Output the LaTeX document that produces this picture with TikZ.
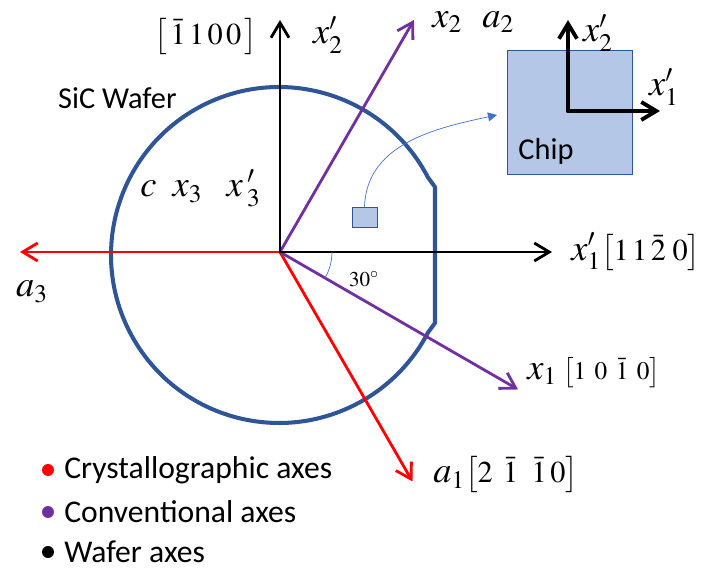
\documentclass[tikz,border=0pt]{standalone}
\usepackage{mathptmx}
\usepackage[no-math]{fontspec}
\setmainfont{Carlito}
\usetikzlibrary{arrows.meta, positioning, calc}
\definecolor{crystred}{HTML}{FF0000}
\definecolor{convpurple}{HTML}{7030A0}
\definecolor{waferblue}{HTML}{2F5597}
\definecolor{chipfill}{HTML}{B4C7E7}
\definecolor{linkblue}{HTML}{4472C4}
\newcommand{\miller}[2][\LARGE]{{#1$\bigl[#2\bigr]$}}

\begin{document}
\begin{tikzpicture}[x=0.02cm, y=0.02cm,
  >={Straight Barb[length=3mm, width=3.6mm]},
  axis/.style={line width=1.6pt, ->, line cap=round},
  lbl/.style={font=\huge, inner sep=0pt},
  legdot/.style={circle, minimum size=0.24cm, inner sep=0pt},
  legtxt/.style={font=\fontsize{18}{22}\selectfont, anchor=west, inner sep=0pt}]

\useasboundingbox (0,0) rectangle (706,571);

% Wafer with flat
\coordinate (wc) at (279,316);
\draw[waferblue, line width=2.3pt, line join=round]
  (435,248) -- (435,384) -- ($(wc)+(27.5:3.36cm)$)
  arc[start angle=27.5, end angle=332.5, radius=3.36cm] -- cycle;
\node[font=\LARGE, anchor=west] (wlabel) at (52,473) {SiC Wafer};

% Axes
\coordinate (O) at (280,319);
\coordinate (x2pEnd) at (280,551);
\coordinate (x1pEnd) at (552,319);
\coordinate (a3End) at (20,319);
\coordinate (a1End) at ($(O)+(-60:5.3cm)$);
\coordinate (x2End) at ($(O)+(60:5.36cm)$);
\coordinate (x1End) at ($(O)+(-30:5.5cm)$);

\draw[axis, crystred] (O) -- (a3End);
\draw[axis, crystred] (O) -- (a1End);
\draw[axis, convpurple] (O) -- (x2End);
\draw[axis, convpurple] (O) -- (x1End);
\draw[axis, black] (O) -- (x2pEnd);
\draw[axis, black] (O) -- (x1pEnd);

% 30 degree mark
\draw[linkblue, thin] ($(O)+(0:1.04cm)$) arc[start angle=0, end angle=-30, radius=1.04cm];
\node[font=\large] (ang) at (364,292) {$30^{\circ}$};

% Axis labels
\node[lbl] (lx2p) at (206,534) {\miller{\,\bar{1}\,1\,0\,0\,}};
\node[lbl] (lx2pb) at (328,536) {$x'_2$};
\node[lbl, anchor=west] (lx2) at (432,549) {$x_2\;\;\,a_2$};
\node[lbl, anchor=west] (lx3) at (140,383) {$c\;\;x_3\;\;\;x\,{}'_{3}$};
\node[lbl, anchor=west] (lx1p) at (571,319) {$x'_1$\miller{1\,1\,\bar{2}\;0}};
\node[lbl] (la3) at (32,279) {$a_3$};
\node[lbl, anchor=west] (lx1) at (527,198) {$x_1$\,\miller[\Large]{1\;\,0\;\,\bar{1}\;\,0}};
\node[lbl, anchor=west] (la1) at (433,96) {$a_1$\miller{2\;\,\bar{1}\;\;\bar{1}\,0}};

% Small region and chip
\node[draw=waferblue, fill=chipfill, minimum width=0.5cm, minimum height=0.4cm, inner sep=0pt] (sq) at (364.5,354) {};
\node[draw=waferblue, fill=chipfill, minimum width=2.5cm, minimum height=2.48cm] (chip) at (569.5,459) {};
\node[font=\LARGE] (chiplbl) at (546,420) {Chip};
\coordinate (chipIn) at (497,456);
\draw[linkblue, thin, -{Triangle[length=1.8mm, width=1.8mm]}] (sq.north) to[out=88, in=192] (chipIn);

% Chip axes
\coordinate (cO) at (568,460);
\coordinate (cUp) at (568,551);
\coordinate (cRt) at (660,460);
\draw[axis, line width=2.2pt] (cO) -- (cUp);
\draw[axis, line width=2.2pt] (cO) -- (cRt);
\node[lbl] (lc2) at (598,538) {$x'_2$};
\node[lbl] (lc1) at (664,484) {$x'_1$};

% Legend
\node[legdot, fill=crystred] (d1) at (48,101) {};
\node[legdot, fill=convpurple] (d2) at (48,59) {};
\node[legdot, fill=black] (d3) at (48,19) {};
\node[legtxt] (t1) at (64,101) {Crystallographic axes};
\node[legtxt] (t2) at (64,59) {Conventional axes};
\node[legtxt] (t3) at (64,19) {Wafer axes};

\end{tikzpicture}
\end{document}
